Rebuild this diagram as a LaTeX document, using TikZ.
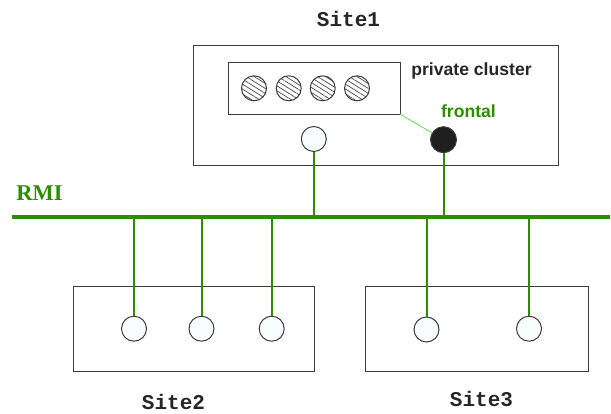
\documentclass[tikz,border=0pt]{standalone}
\usepackage{fontspec}
\setmainfont{Liberation Serif}
\setsansfont{Liberation Sans}
\setmonofont{Liberation Mono}
\usetikzlibrary{patterns.meta}
\definecolor{netgreen}{RGB}{46,140,0}
\definecolor{linkgreen}{RGB}{90,225,70}
\definecolor{boxgray}{RGB}{60,60,60}
\definecolor{nodefill}{RGB}{248,252,252}
\tikzset{
  sitebox/.style={draw=boxgray, line width=1pt, inner sep=0pt, outer sep=0pt},
  host/.style={circle, draw=boxgray, line width=1pt, fill=nodefill, minimum size=25pt, inner sep=0pt, outer sep=0pt},
  worker/.style={circle, draw=boxgray, line width=1pt, minimum size=25pt, inner sep=0pt, outer sep=0pt,
    pattern={Lines[angle=-32, distance=4.2pt, line width=0.75pt]}, pattern color=boxgray!90},
  frontnode/.style={circle, draw=boxgray, line width=1pt, fill=black!88, minimum size=26pt, inner sep=0pt, outer sep=0pt},
  sitelabel/.style={font=\ttfamily\bfseries\fontsize{21}{24}\selectfont, text=black!85},
  wire/.style={draw=netgreen, line width=2pt},
  bus/.style={draw=netgreen, line width=3.2pt},
}
\begin{document}
\begin{tikzpicture}[x=1pt, y=-1pt]
\useasboundingbox (0,0) rectangle (611,413);

% Site 1 with its private cluster and frontal node
\node[sitebox, minimum width=364.5pt, minimum height=120pt] (site1) at (375.75,105.7) {};
\node[sitebox, minimum width=172pt, minimum height=52pt] (cluster) at (314,88) {};
\node[worker] (w1) at (254,88.3) {};
\node[worker] (w2) at (288.7,88.3) {};
\node[worker] (w3) at (322.7,88.3) {};
\node[worker] (w4) at (357,88.3) {};
\node[host] (h1) at (313.8,139) {};
\node[frontnode] (front) at (443.5,139.7) {};
\node[font=\sffamily\bfseries\fontsize{17.6}{20}\selectfont, text=black!85] (clusterlbl) at (471.5,71) {private cluster};
\node[font=\sffamily\bfseries\fontsize{17.6}{20}\selectfont, text=netgreen] (frontlbl) at (468.5,111.7) {frontal};
\node[sitelabel] (site1lbl) at (348.5,19) {Site1};
\draw[linkgreen, line width=0.8pt] (cluster.south east) -- (front);

% RMI bus
\coordinate (busL) at (12,217);
\coordinate (busR) at (610,217);
\node[font=\rmfamily\bfseries\fontsize{22.5}{25}\selectfont, text=netgreen] (rmi) at (39.5,193) {RMI};

% Site 2
\node[sitebox, minimum width=241pt, minimum height=85.7pt] (site2) at (193.8,328.85) {};
\node[host] (a1) at (134,328.7) {};
\node[host] (a2) at (201.5,328.7) {};
\node[host] (a3) at (271.7,328.7) {};
\node[sitelabel] (site2lbl) at (173.5,401.5) {Site2};

% Site 3
\node[sitebox, minimum width=223pt, minimum height=85.7pt] (site3) at (477.2,328.85) {};
\node[host] (b1) at (426.5,329.5) {};
\node[host] (b2) at (529,328.7) {};
\node[sitelabel] (site3lbl) at (481.5,399.5) {Site3};

% Links to the bus
\foreach \n in {h1,front,a1,a2,a3,b1,b2}
  \draw[wire] (\n.south |- busL) -- (\n);
\draw[bus] (busL) -- (busR);
\end{tikzpicture}
\end{document}
